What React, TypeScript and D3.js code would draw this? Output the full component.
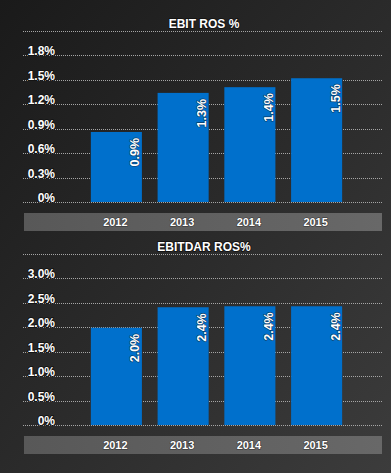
import * as d3 from 'd3';

const WIDTH = 391;
const HEIGHT = 473;

const YEARS = ['2012', '2013', '2014', '2015'];
const EBIT_ROS = [0.86, 1.34, 1.41, 1.52];
const EBITDAR_ROS = [1.99, 2.41, 2.43, 2.43];
const EBIT_TICKS = [0, 0.3, 0.6, 0.9, 1.2, 1.5, 1.8];
const EBITDAR_TICKS = [0, 0.5, 1.0, 1.5, 2.0, 2.5, 3.0];

const BAR_COLOR = '#0070cc';
const FONT = '"Liberation Sans", Arial, sans-serif';

type PanelProps = {
    title: string;
    values: number[];
    ticks: number[];
    yMax: number;
    top: number; // y of top grid line
    bottom: number; // y of zero line
    tickFmt: (v: number) => string;
};

const outline = {
    paintOrder: 'stroke',
    stroke: '#141414',
    strokeWidth: 1.8,
    strokeLinejoin: 'round' as const,
};

function Panel({ title, values, ticks, yMax, top, bottom, tickFmt }: PanelProps) {
    const gridLeft = 23;
    const gridRight = 382;
    const x = d3.scaleBand<string>().domain(YEARS).range([83, 350]).paddingInner(0.235).paddingOuter(0.1175);
    const y = d3.scaleLinear().domain([0, yMax]).range([bottom, top]);
    const bandTop = bottom + 11;
    const bandH = 18;

    return (
        <g>
            <text
                x={204}
                y={top - 3}
                textAnchor="middle"
                fill="#fff"
                fontFamily={FONT}
                fontWeight="bold"
                fontSize={12}
                style={outline}
            >
                {title}
            </text>
            {/* grid */}
            {[...ticks, yMax].map((t) => (
                <line
                    key={t}
                    x1={gridLeft}
                    x2={gridRight}
                    y1={Math.round(y(t)) + 0.5}
                    y2={Math.round(y(t)) + 0.5}
                    stroke="#a6a6a6"
                    strokeDasharray="1,1"
                />
            ))}
            {ticks.map((t) => (
                <text
                    key={'l' + t}
                    x={55}
                    y={y(t)}
                    textAnchor="end"
                    fill="#fff"
                    fontFamily={FONT}
                    fontWeight="bold"
                    fontSize={12}
                    style={outline}
                >
                    {tickFmt(t)}
                </text>
            ))}
            {/* bars */}
            {values.map((v, i) => {
                const bx = x(YEARS[i])!;
                const bw = x.bandwidth();
                return (
                    <g key={YEARS[i]}>
                        <rect x={bx} y={y(v)} width={bw} height={bottom - y(v)} fill={BAR_COLOR} />
                        <text
                            transform={`translate(${bx + bw - 2.5},${y(v) + 6}) rotate(-90)`}
                            textAnchor="end"
                            fill="#fff"
                            fontFamily={FONT}
                            fontWeight="bold"
                            fontSize={12.5}
                            style={{ ...outline, stroke: '#0a3a66', strokeWidth: 1.2 }}
                        >
                            {d3.format('.1f')(v) + '%'}
                        </text>
                    </g>
                );
            })}
            {/* category band */}
            <rect x={24} y={bandTop} width={358} height={bandH} fill="url(#bandGrad)" />
            {YEARS.map((yr) => (
                <text
                    key={'x' + yr}
                    x={x(yr)! + x.bandwidth() / 2 - 1}
                    y={bandTop + bandH / 2 + 3.5}
                    textAnchor="middle"
                    fill="#fff"
                    fontFamily={FONT}
                    fontWeight="bold"
                    fontSize={11}
                    style={{ ...outline, stroke: '#333', strokeWidth: 1.2 }}
                >
                    {yr}
                </text>
            ))}
        </g>
    );
}

export default function App() {
    return (
        <svg
            width={WIDTH}
            height={HEIGHT}
            style={{ position: 'absolute', left: 0, top: 0, display: 'block' }}
        >
            <defs>
                <linearGradient id="bgGrad" x1="0" y1="0" x2="1" y2="1">
                    <stop offset="0%" stopColor="#1a1a1a" />
                    <stop offset="55%" stopColor="#2c2c2c" />
                    <stop offset="100%" stopColor="#3c3c3c" />
                </linearGradient>
                <linearGradient id="bandGrad" x1="0" y1="0" x2="1" y2="0">
                    <stop offset="0%" stopColor="#585858" />
                    <stop offset="100%" stopColor="#686868" />
                </linearGradient>
            </defs>
            <rect width={WIDTH} height={HEIGHT} fill="url(#bgGrad)" />
            <Panel
                title="EBIT ROS %"
                values={EBIT_ROS}
                ticks={EBIT_TICKS}
                yMax={2.1}
                top={31}
                bottom={202}
                tickFmt={(v) => (v === 0 ? '0%' : d3.format('.1f')(v) + '%')}
            />
            <Panel
                title="EBITDAR ROS%"
                values={EBITDAR_ROS}
                ticks={EBITDAR_TICKS}
                yMax={3.5}
                top={254}
                bottom={425}
                tickFmt={(v) => (v === 0 ? '0%' : d3.format('.1f')(v) + '%')}
            />
        </svg>
    );
}
